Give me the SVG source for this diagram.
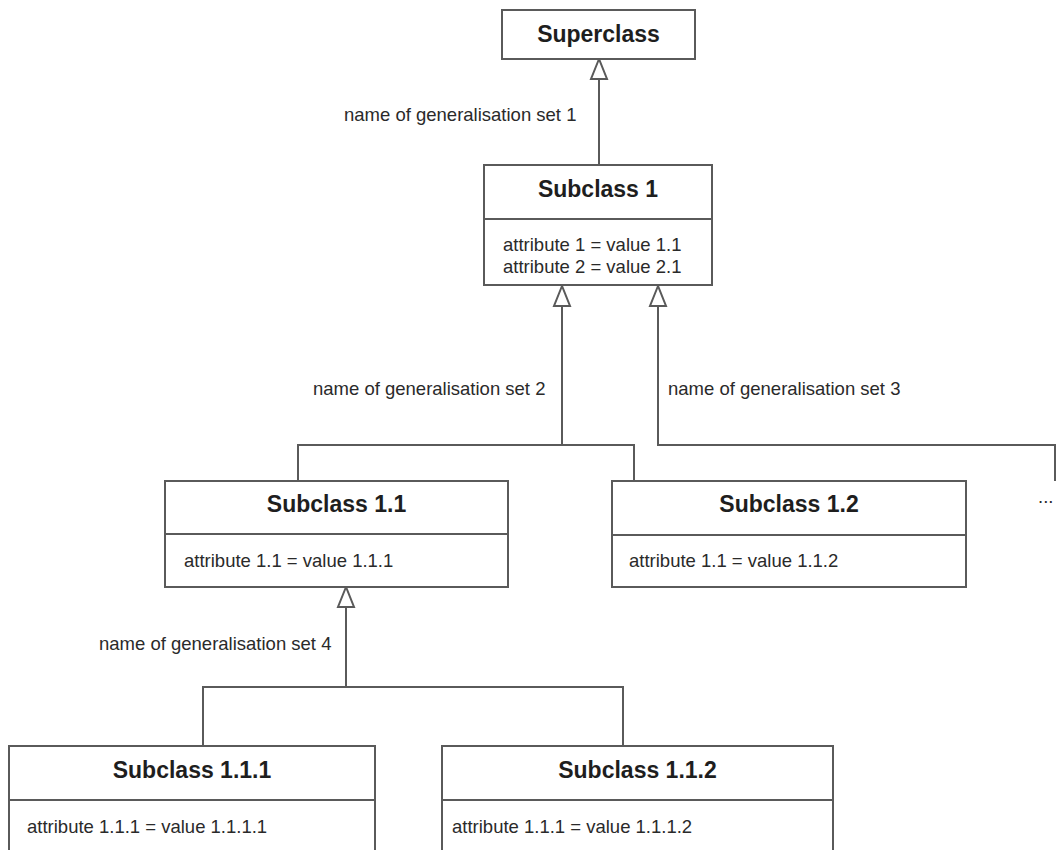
<svg xmlns="http://www.w3.org/2000/svg" width="1056" height="850" viewBox="0 0 1056 850">
<style>
.box{fill:#ffffff;stroke:#5a5a5a;stroke-width:2}
.div{stroke:#5a5a5a;stroke-width:2}
.title{font-family:"Liberation Sans",Arial,sans-serif;font-weight:bold;font-size:23px;fill:#1e1e1e;text-anchor:middle}
.attr{font-family:"Liberation Sans",Arial,sans-serif;font-size:18.5px;fill:#2a2a2a}
.lbl{font-family:"Liberation Sans",Arial,sans-serif;font-size:18.5px;fill:#2a2a2a}
.conn{fill:none;stroke:#5a5a5a;stroke-width:2}
.tri{fill:#ffffff;stroke:#5a5a5a;stroke-width:2;stroke-linejoin:miter}
</style>
<rect width="1056" height="850" fill="#ffffff"/>
<g id="connectors">
<path class="conn" d="M599,79 V165"/>
<polygon class="tri" points="599,59 591,79 607,79"/>
<path class="conn" d="M562,306 V445 M298,481 V445 H634 V481"/>
<polygon class="tri" points="562,286 554,306 570,306"/>
<path class="conn" d="M658,306 V445 H1058 M1055,445 V481"/>
<polygon class="tri" points="658,286 650,306 666,306"/>
<path class="conn" d="M346,607 V687 M203,746 V687 H623 V746"/>
<polygon class="tri" points="346,587 338,607 354,607"/>
</g>
<g id="labels">
<text class="lbl" x="344" y="121">name of generalisation set 1</text>
<text class="lbl" x="313" y="395">name of generalisation set 2</text>
<text class="lbl" x="668" y="395">name of generalisation set 3</text>
<text class="lbl" x="99" y="650">name of generalisation set 4</text>
<text class="lbl" x="1038" y="503">...</text>
</g>
<g id="superclass">
<rect class="box" x="502" y="10" width="193" height="49"/>
<text class="title" x="598.5" y="42">Superclass</text>
</g>
<g id="subclass1">
<rect class="box" x="484" y="165" width="228" height="120"/>
<line class="div" x1="484" y1="219" x2="712" y2="219"/>
<text class="title" x="598" y="197">Subclass 1</text>
<text class="attr" x="503" y="251">attribute 1 = value 1.1</text>
<text class="attr" x="503" y="273">attribute 2 = value 2.1</text>
</g>
<g id="subclass1_1">
<rect class="box" x="165" y="481" width="343" height="106"/>
<line class="div" x1="165" y1="534" x2="508" y2="534"/>
<text class="title" x="336.5" y="512">Subclass 1.1</text>
<text class="attr" x="184" y="567">attribute 1.1 = value 1.1.1</text>
</g>
<g id="subclass1_2">
<rect class="box" x="612" y="481" width="354" height="106"/>
<line class="div" x1="612" y1="535" x2="966" y2="535"/>
<text class="title" x="789" y="512">Subclass 1.2</text>
<text class="attr" x="629" y="567">attribute 1.1 = value 1.1.2</text>
</g>
<g id="subclass1_1_1">
<rect class="box" x="9" y="746" width="366" height="120"/>
<line class="div" x1="9" y1="800" x2="375" y2="800"/>
<text class="title" x="192" y="778">Subclass 1.1.1</text>
<text class="attr" x="27" y="833">attribute 1.1.1 = value 1.1.1.1</text>
</g>
<g id="subclass1_1_2">
<rect class="box" x="442" y="746" width="391" height="120"/>
<line class="div" x1="442" y1="800" x2="833" y2="800"/>
<text class="title" x="637.5" y="778">Subclass 1.1.2</text>
<text class="attr" x="452" y="833">attribute 1.1.1 = value 1.1.1.2</text>
</g>
</svg>
